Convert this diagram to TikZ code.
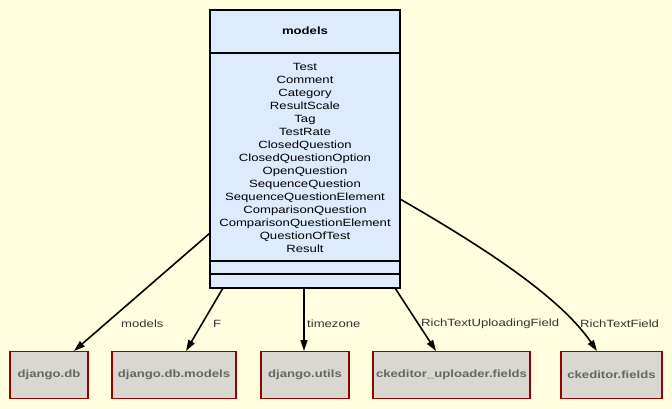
\documentclass[tikz,border=0pt]{standalone}
\usepackage{fontspec}
\setmainfont[FakeStretch=1.25]{Liberation Sans}
\usetikzlibrary{arrows.meta,calc}
\definecolor{bg}{RGB}{255,255,224}
\definecolor{mainfill}{RGB}{222,235,255}
\definecolor{modfill}{RGB}{216,216,208}
\definecolor{modborder}{RGB}{153,0,0}
\definecolor{modtext}{RGB}{102,102,102}
\definecolor{lbltext}{RGB}{51,51,51}
\tikzset{
  every node/.style={font=\fontsize{10.5}{13}\selectfont},
  modbox/.style={draw=modborder, line width=1.8pt, fill=modfill, text=modtext,
    font=\fontsize{10.5}{13}\selectfont\bfseries, minimum height=47pt, inner sep=0pt},
  dep/.style={line width=1.6pt, -{Triangle[length=11pt,width=7pt]}},
  elabel/.style={text=lbltext, inner sep=0pt}
}
\begin{document}
\begin{tikzpicture}[x=1pt,y=-1pt]
\fill[bg] (0,0) rectangle (672,409);
\useasboundingbox (0,0) rectangle (672,409);
% main class box
\node[draw, line width=1.8pt, fill=mainfill, minimum width=190pt, minimum height=278pt, inner sep=0pt] (models) at (305,149) {};
\draw[line width=1.8pt] (models.west |- 0,53) -- (models.east |- 0,53);
\draw[line width=1.8pt] (models.west |- 0,261) -- (models.east |- 0,261);
\draw[line width=1.8pt] (models.west |- 0,274) -- (models.east |- 0,274);
\node[font=\fontsize{10.5}{13}\selectfont\bfseries] (title) at (305,31) {models};
\node[align=center, inner sep=0pt] (list) at (305,158) {Test\\Comment\\Category\\ResultScale\\Tag\\TestRate\\ClosedQuestion\\ClosedQuestionOption\\OpenQuestion\\SequenceQuestion\\SequenceQuestionElement\\ComparisonQuestion\\ComparisonQuestionElement\\QuestionOfTest\\Result};
% module boxes
\node[modbox, minimum width=78pt] (db) at (49,375) {django.db};
\node[modbox, minimum width=124pt] (dbm) at (174,375) {django.db.models};
\node[modbox, minimum width=88pt] (utils) at (305,375) {django.utils};
\node[modbox, minimum width=157pt] (cku) at (451.5,375) {ckeditor\_uploader.fields};
\node[modbox, minimum width=101pt] (ckf) at (611.5,375) {ckeditor.fields};
% edge anchor coordinates
\coordinate (s1) at (210,233);
\coordinate (s2) at (223,288);
\coordinate (s3) at (304,288);
\coordinate (s4) at (395,288);
\coordinate (s5) at (400,199);
\coordinate (t1) at (74,351);
\coordinate (t2) at (186,351);
\coordinate (t3) at (304,351);
\coordinate (t4) at (436,351);
\coordinate (t5) at (597,351);
\draw[dep] (s1) -- (t1);
\draw[dep] (s2) -- (t2);
\draw[dep] (s3) -- (t3);
\draw[dep] (s4) -- (t4);
\draw[dep] (s5) .. controls (485,248) and (560,297) .. (t5);
% edge labels
\node[elabel, anchor=west] (l1) at (121,324) {models};
\node[elabel, anchor=west] (l2) at (213,324) {F};
\node[elabel, anchor=west] (l3) at (307,324) {timezone};
\node[elabel, anchor=west] (l4) at (421,324) {RichTextUploadingField};
\node[elabel, anchor=west] (l5) at (580,324) {RichTextField};
\end{tikzpicture}
\end{document}
